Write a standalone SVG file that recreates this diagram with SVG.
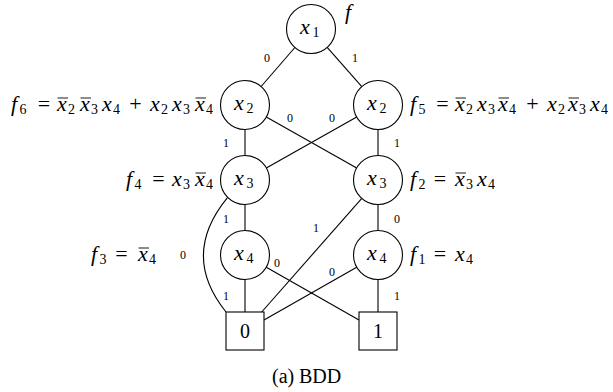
<svg xmlns="http://www.w3.org/2000/svg" width="613" height="392" viewBox="0 0 613 392">
<style>
  .nd { fill: #fff; stroke: #000; stroke-width: 1.1; }
  .ed { fill: none; stroke: #000; stroke-width: 1.1; }
  .bar { stroke: #000; stroke-width: 0.9; }
  text { font-family: "Liberation Serif", "Times New Roman", serif; fill: #000; opacity: 0.999; }
  .m { font-style: italic; font-size: 22px; }
  .s { font-style: normal; font-size: 14px; }
  .o { font-style: normal; font-size: 22px; }
  .el { font-size: 12px; text-anchor: middle; }
  .tl { font-size: 20px; text-anchor: middle; }
  .cap { font-size: 20px; }
</style>
<rect width="613" height="392" fill="#fff"/>

<g id="connectors">
  <line class="ed" x1="294.9" y1="47.5" x2="261.1" y2="86.5"/>
  <line class="ed" x1="327.2" y1="47.4" x2="361.8" y2="86.6"/>
  <line class="ed" x1="245" y1="129.5" x2="245" y2="155.5"/>
  <line class="ed" x1="378" y1="129.5" x2="378" y2="155.5"/>
  <line class="ed" x1="266.3" y1="117" x2="356.7" y2="168"/>
  <line class="ed" x1="356.7" y1="117" x2="266.3" y2="168"/>
  <line class="ed" x1="245" y1="204.5" x2="245" y2="230.5"/>
  <line class="ed" x1="378" y1="204.5" x2="378" y2="230.5"/>
  <line class="ed" x1="361.8" y1="198.4" x2="261.7" y2="312"/>
  <path class="ed" d="M227.7,197.3 Q180,255 226,312"/>
  <line class="ed" x1="245" y1="279.5" x2="245" y2="312"/>
  <line class="ed" x1="378" y1="279.5" x2="378" y2="312"/>
  <line class="ed" x1="266.3" y1="267.2" x2="359" y2="320.1"/>
  <line class="ed" x1="356.7" y1="267.2" x2="264" y2="320.1"/>
  <text class="el" x="267" y="62">0</text>
  <text class="el" x="355" y="62">1</text>
  <text class="el" x="290" y="122">0</text>
  <text class="el" x="332" y="122">0</text>
  <text class="el" x="226" y="147">1</text>
  <text class="el" x="397" y="147">1</text>
  <text class="el" x="226" y="223">1</text>
  <text class="el" x="397" y="223">0</text>
  <text class="el" x="183" y="259">0</text>
  <text class="el" x="316" y="232">1</text>
  <text class="el" x="277" y="267">0</text>
  <text class="el" x="332" y="276">0</text>
  <text class="el" x="226" y="300">1</text>
  <text class="el" x="397" y="300">1</text>
</g>

<g id="n1">
  <circle class="nd" cx="311" cy="29" r="24.5"/>
  <text class="m" x="300" y="34">x<tspan class="s" x="312.5" y="37">1</tspan></text>
  <text class="m" x="345" y="19">f</text>
</g>

<g id="n2L">
  <circle class="nd" cx="245" cy="105" r="24.5"/>
  <text class="m" x="234" y="110">x<tspan class="s" x="246.5" y="113">2</tspan></text>
  <text class="m" x="11" y="111">f<tspan class="s" x="19.5" y="114">6</tspan><tspan class="o" x="44" y="111" text-anchor="middle">=</tspan><tspan x="57" y="111">x</tspan><tspan class="s" x="68" y="114">2</tspan><tspan x="80" y="111">x</tspan><tspan class="s" x="91" y="114">3</tspan><tspan x="102" y="111">x</tspan><tspan class="s" x="113" y="114">4</tspan><tspan class="o" x="135.5" y="111" text-anchor="middle">+</tspan><tspan x="150" y="111">x</tspan><tspan class="s" x="161" y="114">2</tspan><tspan x="172" y="111">x</tspan><tspan class="s" x="183" y="114">3</tspan><tspan x="195" y="111">x</tspan><tspan class="s" x="206" y="114">4</tspan></text>
  <line class="bar" x1="57.5" y1="98" x2="68" y2="98"/>
  <line class="bar" x1="80.5" y1="98" x2="91" y2="98"/>
  <line class="bar" x1="195.5" y1="98" x2="206" y2="98"/>
</g>

<g id="n2R">
  <circle class="nd" cx="378" cy="105" r="24.5"/>
  <text class="m" x="367" y="110">x<tspan class="s" x="379.5" y="113">2</tspan></text>
  <text class="m" x="410" y="111">f<tspan class="s" x="418.5" y="114">5</tspan><tspan class="o" x="442.5" y="111" text-anchor="middle">=</tspan><tspan x="455" y="111">x</tspan><tspan class="s" x="466" y="114">2</tspan><tspan x="477" y="111">x</tspan><tspan class="s" x="488" y="114">3</tspan><tspan x="498" y="111">x</tspan><tspan class="s" x="509" y="114">4</tspan><tspan class="o" x="532.5" y="111" text-anchor="middle">+</tspan><tspan x="547" y="111">x</tspan><tspan class="s" x="558" y="114">2</tspan><tspan x="568" y="111">x</tspan><tspan class="s" x="579" y="114">3</tspan><tspan x="590" y="111">x</tspan><tspan class="s" x="601" y="114">4</tspan></text>
  <line class="bar" x1="455.5" y1="98" x2="466" y2="98"/>
  <line class="bar" x1="498.5" y1="98" x2="509" y2="98"/>
  <line class="bar" x1="568.5" y1="98" x2="579" y2="98"/>
</g>

<g id="n3L">
  <circle class="nd" cx="245" cy="180" r="24.5"/>
  <text class="m" x="234" y="185">x<tspan class="s" x="246.5" y="188">3</tspan></text>
  <text class="m" x="126" y="186">f<tspan class="s" x="134.5" y="189">4</tspan><tspan class="o" x="158.5" y="186" text-anchor="middle">=</tspan><tspan x="172" y="186">x</tspan><tspan class="s" x="183" y="189">3</tspan><tspan x="195" y="186">x</tspan><tspan class="s" x="206" y="189">4</tspan></text>
  <line class="bar" x1="195.5" y1="173" x2="206" y2="173"/>
</g>

<g id="n3R">
  <circle class="nd" cx="378" cy="180" r="24.5"/>
  <text class="m" x="367" y="185">x<tspan class="s" x="379.5" y="188">3</tspan></text>
  <text class="m" x="410" y="186">f<tspan class="s" x="418.5" y="189">2</tspan><tspan class="o" x="440" y="186" text-anchor="middle">=</tspan><tspan x="455" y="186">x</tspan><tspan class="s" x="466" y="189">3</tspan><tspan x="477" y="186">x</tspan><tspan class="s" x="488" y="189">4</tspan></text>
  <line class="bar" x1="455.5" y1="173" x2="466" y2="173"/>
</g>

<g id="n4L">
  <circle class="nd" cx="245" cy="255" r="24.5"/>
  <text class="m" x="234" y="260">x<tspan class="s" x="246.5" y="263">4</tspan></text>
  <text class="m" x="91" y="261">f<tspan class="s" x="99.5" y="264">3</tspan><tspan class="o" x="121.5" y="261" text-anchor="middle">=</tspan><tspan x="138" y="261">x</tspan><tspan class="s" x="149" y="264">4</tspan></text>
  <line class="bar" x1="138.5" y1="248" x2="149" y2="248"/>
</g>

<g id="n4R">
  <circle class="nd" cx="378" cy="255" r="24.5"/>
  <text class="m" x="367" y="260">x<tspan class="s" x="379.5" y="263">4</tspan></text>
  <text class="m" x="410" y="261">f<tspan class="s" x="418.5" y="264">1</tspan><tspan class="o" x="440" y="261" text-anchor="middle">=</tspan><tspan x="455" y="261">x</tspan><tspan class="s" x="466" y="264">4</tspan></text>
</g>

<g id="t0">
  <rect class="nd" x="226" y="312" width="38" height="38"/>
  <text class="tl" x="245" y="338">0</text>
</g>

<g id="t1">
  <rect class="nd" x="359" y="312" width="38" height="38"/>
  <text class="tl" x="378" y="338">1</text>
</g>

<g id="caption">
  <text class="cap" x="272" y="383">(a)<tspan x="299">BDD</tspan></text>
</g>
</svg>
